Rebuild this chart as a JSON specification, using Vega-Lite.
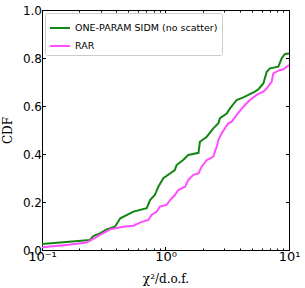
{
  "$schema": "https://vega.github.io/schema/vega-lite/v6.json",
  "width": 247,
  "height": 240,
  "autosize": {"type": "none"},
  "padding": {"left": 42, "top": 10, "right": 16, "bottom": 38},
  "config": {
    "view": {"stroke": "black", "strokeWidth": 1},
    "axis": {"grid": false, "domainColor": "black", "tickColor": "black", "labelColor": "black", "titleColor": "black", "labelFont": "DejaVu Sans", "labelFontSize": 12, "titleFont": "DejaVu Serif", "titleFontSize": 12, "titleFontWeight": "normal"}
  },
  "data": {"values": [
    {"s": "ONE-PARAM SIDM (no scatter)", "x": 0.1, "y": 0.025},
    {"s": "ONE-PARAM SIDM (no scatter)", "x": 0.245, "y": 0.042},
    {"s": "ONE-PARAM SIDM (no scatter)", "x": 0.26, "y": 0.058},
    {"s": "ONE-PARAM SIDM (no scatter)", "x": 0.295, "y": 0.069},
    {"s": "ONE-PARAM SIDM (no scatter)", "x": 0.334, "y": 0.086},
    {"s": "ONE-PARAM SIDM (no scatter)", "x": 0.39, "y": 0.097},
    {"s": "ONE-PARAM SIDM (no scatter)", "x": 0.43, "y": 0.132},
    {"s": "ONE-PARAM SIDM (no scatter)", "x": 0.55, "y": 0.16},
    {"s": "ONE-PARAM SIDM (no scatter)", "x": 0.705, "y": 0.174},
    {"s": "ONE-PARAM SIDM (no scatter)", "x": 0.75, "y": 0.208},
    {"s": "ONE-PARAM SIDM (no scatter)", "x": 0.82, "y": 0.229},
    {"s": "ONE-PARAM SIDM (no scatter)", "x": 0.875, "y": 0.264},
    {"s": "ONE-PARAM SIDM (no scatter)", "x": 0.96, "y": 0.299},
    {"s": "ONE-PARAM SIDM (no scatter)", "x": 1.087, "y": 0.319},
    {"s": "ONE-PARAM SIDM (no scatter)", "x": 1.19, "y": 0.333},
    {"s": "ONE-PARAM SIDM (no scatter)", "x": 1.23, "y": 0.354},
    {"s": "ONE-PARAM SIDM (no scatter)", "x": 1.39, "y": 0.375},
    {"s": "ONE-PARAM SIDM (no scatter)", "x": 1.53, "y": 0.396},
    {"s": "ONE-PARAM SIDM (no scatter)", "x": 1.85, "y": 0.405},
    {"s": "ONE-PARAM SIDM (no scatter)", "x": 1.9, "y": 0.451},
    {"s": "ONE-PARAM SIDM (no scatter)", "x": 2.16, "y": 0.472},
    {"s": "ONE-PARAM SIDM (no scatter)", "x": 2.44, "y": 0.507},
    {"s": "ONE-PARAM SIDM (no scatter)", "x": 2.68, "y": 0.528},
    {"s": "ONE-PARAM SIDM (no scatter)", "x": 2.76, "y": 0.549},
    {"s": "ONE-PARAM SIDM (no scatter)", "x": 3.13, "y": 0.569},
    {"s": "ONE-PARAM SIDM (no scatter)", "x": 3.33, "y": 0.59},
    {"s": "ONE-PARAM SIDM (no scatter)", "x": 3.77, "y": 0.625},
    {"s": "ONE-PARAM SIDM (no scatter)", "x": 4.27, "y": 0.636},
    {"s": "ONE-PARAM SIDM (no scatter)", "x": 4.69, "y": 0.646},
    {"s": "ONE-PARAM SIDM (no scatter)", "x": 5.31, "y": 0.66},
    {"s": "ONE-PARAM SIDM (no scatter)", "x": 5.65, "y": 0.67},
    {"s": "ONE-PARAM SIDM (no scatter)", "x": 6.2, "y": 0.694},
    {"s": "ONE-PARAM SIDM (no scatter)", "x": 6.6, "y": 0.743},
    {"s": "ONE-PARAM SIDM (no scatter)", "x": 7.02, "y": 0.757},
    {"s": "ONE-PARAM SIDM (no scatter)", "x": 8.2, "y": 0.764},
    {"s": "ONE-PARAM SIDM (no scatter)", "x": 8.73, "y": 0.799},
    {"s": "ONE-PARAM SIDM (no scatter)", "x": 9.28, "y": 0.817},
    {"s": "ONE-PARAM SIDM (no scatter)", "x": 10, "y": 0.819},
    {"s": "RAR", "x": 0.1, "y": 0.011},
    {"s": "RAR", "x": 0.158, "y": 0.021},
    {"s": "RAR", "x": 0.23, "y": 0.031},
    {"s": "RAR", "x": 0.295, "y": 0.063},
    {"s": "RAR", "x": 0.356, "y": 0.086},
    {"s": "RAR", "x": 0.455, "y": 0.097},
    {"s": "RAR", "x": 0.55, "y": 0.101},
    {"s": "RAR", "x": 0.62, "y": 0.114},
    {"s": "RAR", "x": 0.727, "y": 0.125},
    {"s": "RAR", "x": 0.77, "y": 0.146},
    {"s": "RAR", "x": 0.85, "y": 0.16},
    {"s": "RAR", "x": 0.9, "y": 0.181},
    {"s": "RAR", "x": 1.02, "y": 0.188},
    {"s": "RAR", "x": 1.09, "y": 0.208},
    {"s": "RAR", "x": 1.19, "y": 0.229},
    {"s": "RAR", "x": 1.27, "y": 0.25},
    {"s": "RAR", "x": 1.44, "y": 0.264},
    {"s": "RAR", "x": 1.53, "y": 0.292},
    {"s": "RAR", "x": 1.68, "y": 0.313},
    {"s": "RAR", "x": 1.85, "y": 0.319},
    {"s": "RAR", "x": 1.96, "y": 0.347},
    {"s": "RAR", "x": 2.16, "y": 0.375},
    {"s": "RAR", "x": 2.44, "y": 0.389},
    {"s": "RAR", "x": 2.6, "y": 0.431},
    {"s": "RAR", "x": 2.68, "y": 0.458},
    {"s": "RAR", "x": 2.85, "y": 0.486},
    {"s": "RAR", "x": 3.03, "y": 0.507},
    {"s": "RAR", "x": 3.23, "y": 0.528},
    {"s": "RAR", "x": 3.44, "y": 0.535},
    {"s": "RAR", "x": 3.77, "y": 0.563},
    {"s": "RAR", "x": 4.27, "y": 0.597},
    {"s": "RAR", "x": 4.83, "y": 0.625},
    {"s": "RAR", "x": 5.47, "y": 0.646},
    {"s": "RAR", "x": 6.2, "y": 0.66},
    {"s": "RAR", "x": 6.6, "y": 0.674},
    {"s": "RAR", "x": 7.24, "y": 0.701},
    {"s": "RAR", "x": 7.47, "y": 0.736},
    {"s": "RAR", "x": 8.2, "y": 0.747},
    {"s": "RAR", "x": 9.0, "y": 0.753},
    {"s": "RAR", "x": 10, "y": 0.771}
  ]},
  "layer": [
    {
      "mark": {"type": "line", "strokeWidth": 2, "clip": true},
      "encoding": {
        "x": {"field": "x", "type": "quantitative",
          "scale": {"type": "log", "domain": [0.1, 10], "nice": false},
          "axis": {"orient": "bottom", "title": "χ²/d.o.f.",
            "values": [0.1,0.2,0.3,0.4,0.5,0.6,0.7,0.8,0.9,1,2,3,4,5,6,7,8,9,10],
            "labelExpr": "datum.value == 0.1 ? '10⁻¹' : datum.value == 1 ? '10⁰' : datum.value == 10 ? '10¹' : ''",
            "tickSize": {"condition": {"test": "datum.value == 0.1 || datum.value == 1 || datum.value == 10", "value": -3.5}, "value": -2},
            "labelPadding": 4, "labelFontSize": 13, "labelFlush": false, "labelOverlap": false, "titlePadding": 8}},
        "y": {"field": "y", "type": "quantitative",
          "scale": {"domain": [0, 1], "nice": false},
          "axis": {"orient": "left", "title": "CDF", "values": [0,0.2,0.4,0.6,0.8,1.0], "format": ".1f",
            "tickSize": -3.5, "labelPadding": 4, "labelFlush": false, "titlePadding": 8}},
        "color": {"field": "s", "type": "nominal",
          "scale": {"domain": ["ONE-PARAM SIDM (no scatter)", "RAR"], "range": ["#138513", "#ff4dff"]},
          "legend": {"title": null, "orient": "top-left", "offset": 3, "symbolType": "stroke", "symbolStrokeWidth": 2, "symbolSize": 400,
            "labelFont": "DejaVu Sans", "labelFontSize": 9.5, "labelColor": "black", "labelLimit": 300, "strokeColor": "#cccccc", "fillColor": "white", "padding": 4, "cornerRadius": 2, "rowPadding": 2}}
      }
    },
    {
      "mark": {"type": "line", "opacity": 0},
      "encoding": {
        "x": {"field": "x", "type": "quantitative",
          "axis": {"orient": "top", "title": null, "labels": false,
            "values": [0.1,0.2,0.3,0.4,0.5,0.6,0.7,0.8,0.9,1,2,3,4,5,6,7,8,9,10],
            "tickSize": {"condition": {"test": "datum.value == 0.1 || datum.value == 1 || datum.value == 10", "value": -3.5}, "value": -2}}},
        "y": {"field": "y", "type": "quantitative",
          "axis": {"orient": "right", "title": null, "labels": false, "values": [0,0.2,0.4,0.6,0.8,1.0], "tickSize": -3.5}}
      }
    }
  ],
  "resolve": {"axis": {"x": "independent", "y": "independent"}}
}
